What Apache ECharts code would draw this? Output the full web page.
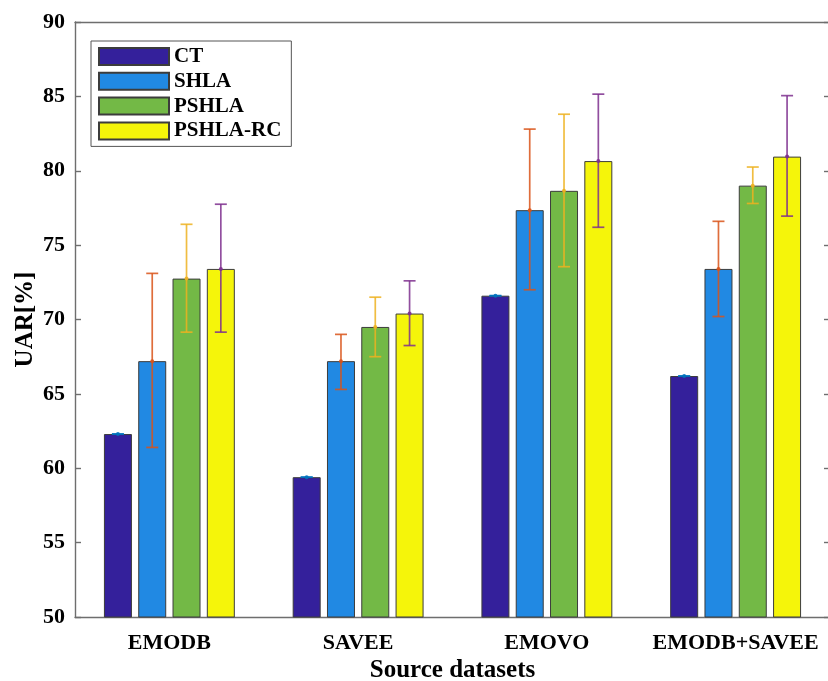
<!DOCTYPE html>
<html>
<head>
<meta charset="utf-8">
<script src="https://cdn.jsdelivr.net/npm/echarts@6/dist/echarts.min.js"></script>
<style>html,body{margin:0;padding:0;background:#fff}#c{width:828px;height:681px}</style>
</head>
<body>
<div id="c"></div>
<script>
var categories = ['EMODB', 'SAVEE', 'EMOVO', 'EMODB+SAVEE'];
var seriesNames = ['CT', 'SHLA', 'PSHLA', 'PSHLA-RC'];
var yTicks = [50, 55, 60, 65, 70, 75, 80, 85, 90];

var ctMean = [62.3, 59.4, 71.6, 66.2];
var ctLow = [62.3, 59.4, 71.6, 66.2];
var ctHigh = [62.3, 59.4, 71.6, 66.2];

var shlaMean = [67.2, 67.2, 77.35, 73.4];
var shlaLow = [61.4, 65.3, 72.0, 70.2];
var shlaHigh = [73.1, 69.0, 82.8, 76.6];

var pshlaMean = [72.75, 69.5, 78.65, 79.0];
var pshlaLow = [69.15, 67.5, 73.55, 77.8];
var pshlaHigh = [76.4, 71.5, 83.8, 80.25];

var rcMean = [73.4, 70.4, 80.65, 80.95];
var rcLow = [69.15, 68.25, 76.2, 76.95];
var rcHigh = [77.75, 72.6, 85.15, 85.05];

var means = [ctMean, shlaMean, pshlaMean, rcMean];
var lows = [ctLow, shlaLow, pshlaLow, rcLow];
var highs = [ctHigh, shlaHigh, pshlaHigh, rcHigh];

var barColors = ['#34209B', '#2189E3', '#73B946', '#F5F50A'];
var errColors = ['#0072BD', '#D95319', '#EDB120', '#7E2F8E'];
var FONT = "'Liberation Serif', 'Times New Roman', serif";
var BW = 28, GAP = 6.3;

var series = [];
seriesNames.forEach(function (n, i) {
  series.push({
    name: n, type: 'bar', data: means[i],
    barWidth: BW, barGap: (GAP / BW * 100) + '%',
    itemStyle: { color: barColors[i], borderColor: '#3c3c3c', borderWidth: 1 },
    z: 2
  });
});
seriesNames.forEach(function (n, i) {
  var data = categories.map(function (c, k) { return [k, lows[i][k], highs[i][k], means[i][k]]; });
  series.push({
    name: 'err-' + n, type: 'custom', data: data, z: 5,
    encode: { x: 0, y: [1, 2, 3] },
    renderItem: function (params, api) {
      var off = (i - 1.5) * (BW + GAP);
      var lo = api.coord([api.value(0), api.value(1)]);
      var hi = api.coord([api.value(0), api.value(2)]);
      var md = api.coord([api.value(0), api.value(3)]);
      var x = lo[0] + off, cw = 6;
      var st = { stroke: errColors[i], lineWidth: 1.7, opacity: 0.85 };
      return {
        type: 'group',
        children: [
          { type: 'line', shape: { x1: x, y1: lo[1], x2: x, y2: hi[1] }, style: st },
          { type: 'line', shape: { x1: x - cw, y1: lo[1], x2: x + cw, y2: lo[1] }, style: st },
          { type: 'line', shape: { x1: x - cw, y1: hi[1], x2: x + cw, y2: hi[1] }, style: st },
          { type: 'circle', shape: { cx: x, cy: md[1], r: 2 }, style: { fill: errColors[i], opacity: 0.9 } }
        ]
      };
    }
  });
});

var axisLineStyle = { color: '#6e6e6e', width: 1.4 };
var chart = echarts.init(document.getElementById('c'));
chart.setOption({
  animation: false,
  backgroundColor: '#fff',
  grid: { left: 75, top: 22, width: 755, height: 595, containLabel: false, outerBoundsMode: 'none' },
  legend: {
    data: seriesNames, orient: 'vertical', left: 91, top: 41,
    icon: 'rect', itemWidth: 70, itemHeight: 17, itemGap: 3.8,
    padding: [5, 10, 5, 7],
    borderColor: '#555', borderWidth: 1, backgroundColor: '#fff',
    textStyle: { fontFamily: FONT, fontWeight: 'bold', fontSize: 21, color: '#000' },
    z: 10
  },
  xAxis: [{
    type: 'category', data: categories, position: 'bottom',
    name: 'Source datasets', nameLocation: 'middle', nameGap: 41, nameMoveOverlap: false,
    nameTextStyle: { fontFamily: FONT, fontWeight: 'bold', fontSize: 25, color: '#000' },
    axisLine: { lineStyle: axisLineStyle },
    axisTick: { inside: true, alignWithLabel: true, length: 5, lineStyle: axisLineStyle },
    axisLabel: { interval: 0, fontFamily: FONT, fontWeight: 'bold', fontSize: 22, color: '#000', margin: 15 },
    splitLine: { show: false }
  }, {
    type: 'category', data: categories, position: 'top',
    axisLine: { lineStyle: axisLineStyle },
    axisTick: { inside: true, alignWithLabel: true, length: 5, lineStyle: axisLineStyle },
    axisLabel: { show: false }
  }],
  yAxis: [{
    type: 'value', min: yTicks[0], max: yTicks[yTicks.length - 1], interval: 5,
    name: 'UAR[%]', nameLocation: 'middle', nameGap: 37, nameRotate: 90, nameMoveOverlap: false,
    nameTextStyle: { fontFamily: FONT, fontWeight: 'bold', fontSize: 25, color: '#000' },
    axisLine: { show: true, lineStyle: axisLineStyle },
    axisTick: { show: true, inside: true, length: 6, lineStyle: axisLineStyle },
    axisLabel: { fontFamily: FONT, fontWeight: 'bold', fontSize: 22, color: '#000', margin: 10 },
    splitLine: { show: false }
  }, {
    type: 'value', min: yTicks[0], max: yTicks[yTicks.length - 1], interval: 5, position: 'right',
    axisLine: { show: true, lineStyle: axisLineStyle },
    axisTick: { show: true, inside: true, length: 6, lineStyle: axisLineStyle },
    axisLabel: { show: false },
    splitLine: { show: false }
  }],
  series: series
});
</script>
</body>
</html>
